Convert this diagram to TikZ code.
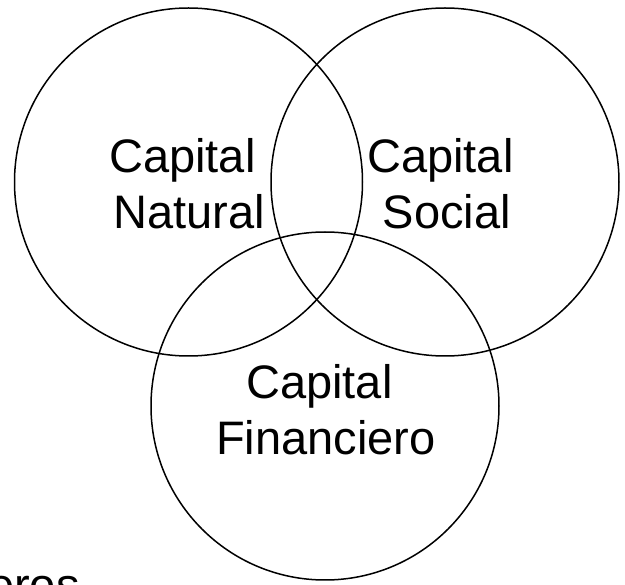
\documentclass[tikz,border=0pt]{standalone}
\usepackage{fontspec}
\setmainfont{Liberation Sans}
\begin{document}
\begin{tikzpicture}[x=1pt,y=-1pt,
  ring/.style={draw=black,line width=1.5pt},
  lbl/.style={font=\fontsize{47}{56}\selectfont,align=center,inner sep=0pt,text=black}]
\useasboundingbox (0,0) rectangle (625,585);
\clip (0,0) rectangle (625,585);
\draw[ring] (188.5,182) circle (174);
\draw[ring] (445,182) circle (174);
\draw[ring] (325,406) circle (174);
\node[lbl] (nat) at (189,184) {Capital\hspace*{.28em}\\Natural};
\node[lbl] (soc) at (447,184) {Capital\hspace*{.28em}\\Social};
\node[lbl] (fin) at (326,410) {Capital\hspace*{.28em}\\Financiero};
\node[lbl,anchor=base west] (eros) at (-12,602) {eros};
\end{tikzpicture}
\end{document}
